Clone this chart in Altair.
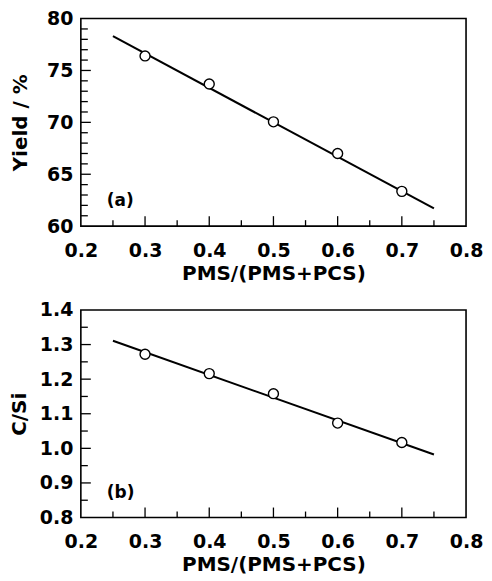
import altair as alt
import pandas as pd

# ---- data ----
ratio = [0.3, 0.4, 0.5, 0.6, 0.7]
yield_pct = [76.4, 73.7, 70.05, 67.0, 63.35]
c_si = [1.272, 1.216, 1.158, 1.073, 1.017]

fit_x = [0.25, 0.75]
fit_yield = [78.3, 61.7]
fit_csi = [1.311, 0.982]

x_ticks_major = [0.3, 0.4, 0.5, 0.6, 0.7]
x_ticks_minor = [0.25, 0.35, 0.45, 0.55, 0.65, 0.75]
x_labels = [0.2, 0.3, 0.4, 0.5, 0.6, 0.7, 0.8]

y1_labels = [60, 65, 70, 75, 80]
y1_ticks_major = [65, 70, 75]
y1_ticks_minor = [61, 62, 63, 64, 66, 67, 68, 69, 71, 72, 73, 74, 76, 77, 78, 79]

y2_labels = [0.8, 0.9, 1.0, 1.1, 1.2, 1.3, 1.4]
y2_ticks_major = [0.9, 1.0, 1.1, 1.2, 1.3]
y2_ticks_minor = [0.85, 0.95, 1.05, 1.15, 1.25, 1.35]

W, H = 386, 208
FONT = "DejaVu Sans"


def panel(yvals, fit_y, y_title, y_labels, y_major, y_minor, y_dom, y_fmt, tag, title_pad):
    pts = pd.DataFrame({"x": ratio, "y": yvals})
    fit = pd.DataFrame({"x": fit_x, "y": fit_y})

    xax = alt.Axis(values=x_labels, format=".1f", ticks=False, domain=False, grid=False,
                   labelFont=FONT, labelFontWeight="bold", labelFontSize=19, labelColor="black",
                   labelFlush=False, labelOverlap=False, labelPadding=15,
                   title="PMS/(PMS+PCS)", titleFont=FONT, titleFontWeight="bold",
                   titleFontSize=20, titleColor="black", titlePadding=3)
    yax = alt.Axis(values=y_labels, format=y_fmt, ticks=False, domain=False, grid=False,
                   labelFont=FONT, labelFontWeight="bold", labelFontSize=19, labelColor="black",
                   labelFlush=False, labelOverlap=False, labelPadding=8,
                   title=y_title, titleFont=FONT, titleFontWeight="bold",
                   titleFontSize=20, titleColor="black", titlePadding=title_pad)
    xs = alt.Scale(domain=[0.2, 0.8], nice=False, zero=False)
    ys = alt.Scale(domain=y_dom, nice=False, zero=False)

    line = alt.Chart(fit).mark_line(color="black", strokeWidth=2).encode(
        x=alt.X("x:Q", scale=xs, axis=xax), y=alt.Y("y:Q", scale=ys, axis=yax))
    points = alt.Chart(pts).mark_point(shape="circle", filled=True, fill="white",
                                       stroke="black", strokeWidth=1.4, size=100,
                                       opacity=1).encode(
        x=alt.X("x:Q", scale=xs, axis=xax), y=alt.Y("y:Q", scale=ys, axis=yax))

    ymaj = alt.Chart(pd.DataFrame({"y": y_major})).mark_rule(color="black", strokeWidth=1.3).encode(
        y=alt.Y("y:Q", scale=ys, axis=yax), x=alt.value(0), x2=alt.value(10))
    ymin = alt.Chart(pd.DataFrame({"y": y_minor})).mark_rule(color="black", strokeWidth=1.3).encode(
        y=alt.Y("y:Q", scale=ys, axis=yax), x=alt.value(0), x2=alt.value(7))
    xmaj = alt.Chart(pd.DataFrame({"x": x_ticks_major})).mark_rule(color="black", strokeWidth=1.3).encode(
        x=alt.X("x:Q", scale=xs, axis=xax), y=alt.value(H), y2=alt.value(H - 10))
    xmin = alt.Chart(pd.DataFrame({"x": x_ticks_minor})).mark_rule(color="black", strokeWidth=1.3).encode(
        x=alt.X("x:Q", scale=xs, axis=xax), y=alt.value(H), y2=alt.value(H - 6))

    label = alt.Chart(pd.DataFrame({"t": [tag]})).mark_text(
        font=FONT, fontSize=17, fontWeight="bold", color="black", align="left", baseline="middle"
    ).encode(text="t:N", x=alt.value(26), y=alt.value(H - 25))

    return alt.layer(ymaj, ymin, xmaj, xmin, line, points, label).properties(width=W, height=H)


top = panel(yield_pct, fit_yield, "Yield / %", y1_labels, y1_ticks_major, y1_ticks_minor,
            [60, 80], "d", "(a)", 16)
bottom = panel(c_si, fit_csi, "C/Si", y2_labels, y2_ticks_major, y2_ticks_minor,
               [0.8, 1.4], ".1f", "(b)", 10)

chart = alt.vconcat(top, bottom, spacing=16).properties(padding=0).configure(
    background="white"
).configure_view(stroke="black", strokeWidth=1.6)

chart.save("out.html", embed_options={"renderer": "svg", "actions": False})
